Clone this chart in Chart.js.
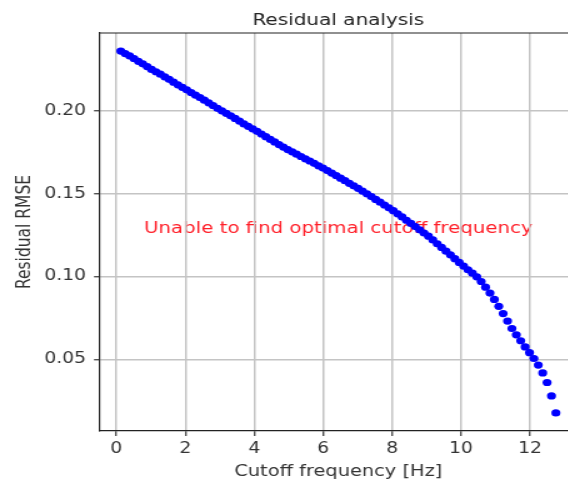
<!DOCTYPE html>
<html>
<head>
<meta charset="utf-8">
<script src="https://cdn.jsdelivr.net/npm/chart.js@4.4.0/dist/chart.umd.min.js"></script>
<style>
  html, body { margin: 0; padding: 0; background: #fff; overflow: hidden; }
  /* the reference figure is stretched sideways, so the chart is too */
  #wrap { width: 480px; height: 483px; transform: scaleX(1.25); transform-origin: 0 0; }
</style>
</head>
<body>
<div id="wrap"><canvas id="residualChart" width="480" height="483"></canvas></div>
<script>
// cutoff frequencies [Hz]
const freqs = [
  0.128, 0.255, 0.383, 0.51, 0.638, 0.765, 0.893, 1.02, 1.148, 1.275,
  1.403, 1.53, 1.658, 1.785, 1.913, 2.04, 2.168, 2.295, 2.423, 2.55,
  2.678, 2.805, 2.933, 3.06, 3.188, 3.315, 3.443, 3.57, 3.698, 3.825,
  3.953, 4.08, 4.208, 4.335, 4.463, 4.59, 4.718, 4.845, 4.973, 5.1,
  5.228, 5.355, 5.483, 5.61, 5.738, 5.865, 5.993, 6.12, 6.248, 6.375,
  6.503, 6.63, 6.758, 6.885, 7.013, 7.14, 7.268, 7.395, 7.523, 7.65,
  7.778, 7.905, 8.033, 8.16, 8.288, 8.415, 8.543, 8.67, 8.798, 8.925,
  9.053, 9.18, 9.308, 9.435, 9.563, 9.69, 9.818, 9.945, 10.073, 10.2,
  10.328, 10.455, 10.583, 10.71, 10.838, 10.965, 11.093, 11.22, 11.348, 11.475,
  11.603, 11.73, 11.858, 11.985, 12.113, 12.24, 12.368, 12.495, 12.623, 12.75
];

// residual RMSE
const rmse = [
  0.2362, 0.2347, 0.2333, 0.2317, 0.2300, 0.2285, 0.2268, 0.2251, 0.2237, 0.2222,
  0.2206, 0.2191, 0.2174, 0.2158, 0.2143, 0.2128, 0.2111, 0.2096, 0.2081, 0.2065,
  0.2049, 0.2033, 0.2016, 0.2001, 0.1986, 0.1971, 0.1955, 0.1939, 0.1922, 0.1907,
  0.1892, 0.1877, 0.1861, 0.1845, 0.1829, 0.1813, 0.1797, 0.1782, 0.1767, 0.1753,
  0.1739, 0.1725, 0.1711, 0.1698, 0.1684, 0.1669, 0.1655, 0.1640, 0.1625, 0.1610,
  0.1594, 0.1579, 0.1563, 0.1548, 0.1533, 0.1516, 0.1500, 0.1483, 0.1466, 0.1449,
  0.1432, 0.1415, 0.1398, 0.1379, 0.1360, 0.1340, 0.1321, 0.1302, 0.1282, 0.1263,
  0.1244, 0.1221, 0.1198, 0.1176, 0.1153, 0.1131, 0.1108, 0.1085, 0.1063, 0.1041,
  0.1020, 0.0998, 0.0970, 0.0936, 0.0900, 0.0862, 0.0820, 0.0776, 0.0731, 0.0686,
  0.0648, 0.0612, 0.0575, 0.0540, 0.0505, 0.0465, 0.0418, 0.0360, 0.0279, 0.0176
];

const xTicks = [0, 2, 4, 6, 8, 10, 12];
const yTicks = [0.05, 0.10, 0.15, 0.20];
const xRange = [-0.504, 13.381];
const yRange = [0.0067, 0.2471];

const chartTitle = 'Residual analysis';
const xLabel = 'Cutoff frequency [Hz]';
const yLabel = 'Residual RMSE';
const warning = 'Unable to find optimal cutoff frequency';

const FONT = "'DejaVu Sans', sans-serif";

// red message under the grid, plus the top/right frame
const residualText = {
  id: 'residualText',
  beforeDraw(chart) {
    const { ctx, chartArea: a } = chart;
    ctx.save();
    ctx.font = '15.8px ' + FONT;
    ctx.fillStyle = 'rgb(255,30,40)';
    ctx.textAlign = 'center';
    ctx.textBaseline = 'alphabetic';
    ctx.fillText(warning, (a.left + a.right) / 2, (a.top + a.bottom) / 2 + 1);
    ctx.restore();
  },
  afterDraw(chart) {
    const { ctx, chartArea: a } = chart;
    ctx.save();
    ctx.strokeStyle = '#222';
    ctx.lineWidth = 1.2;
    ctx.beginPath();
    ctx.moveTo(a.left, a.top);
    ctx.lineTo(a.right, a.top);
    ctx.lineTo(a.right, a.bottom);
    ctx.stroke();
    ctx.restore();
  }
};

const ctx = document.getElementById('residualChart').getContext('2d');
new Chart(ctx, {
  type: 'scatter',
  data: {
    datasets: [{
      data: freqs.map((f, i) => ({ x: f, y: rmse[i] })),
      backgroundColor: '#0000ff',
      borderWidth: 0,
      pointRadius: 3.6,
      pointHoverRadius: 3.6
    }]
  },
  options: {
    responsive: false,
    animation: false,
    devicePixelRatio: 1,
    layout: { padding: { left: 0, right: 17.9, top: 0, bottom: 0 } },
    plugins: {
      legend: { display: false },
      tooltip: { enabled: false },
      title: {
        display: true,
        text: chartTitle,
        fullSize: false,
        color: '#222',
        font: { family: FONT, size: 16, weight: 'normal' },
        padding: { top: 11.4, bottom: 2.4 }
      }
    },
    scales: {
      x: {
        type: 'linear',
        position: 'bottom',
        min: xRange[0],
        max: xRange[1],
        afterBuildTicks: s => { s.ticks = xTicks.map(v => ({ value: v })); },
        afterFit: s => { s.height = 52; },
        grid: { color: '#c4c4c4', lineWidth: 1.5, tickColor: '#333', tickWidth: 1.2, tickLength: 5 },
        border: { color: '#222', width: 1.2 },
        ticks: {
          color: '#333',
          font: { family: FONT, size: 15 },
          padding: 4,
          maxRotation: 0,
          callback: v => String(v)
        },
        title: {
          display: true,
          text: xLabel,
          color: '#333',
          font: { family: FONT, size: 15.5 },
          padding: { top: 0, bottom: 2 }
        }
      },
      y: {
        type: 'linear',
        min: yRange[0],
        max: yRange[1],
        afterBuildTicks: s => { s.ticks = yTicks.map(v => ({ value: v })); },
        afterFit: s => { s.width = 79.2; },
        grid: { color: '#c4c4c4', lineWidth: 1.5, tickColor: '#333', tickWidth: 1.2, tickLength: 4 },
        border: { color: '#222', width: 1.2 },
        ticks: {
          color: '#333',
          font: { family: FONT, size: 15 },
          padding: 6.4,
          callback: v => v.toFixed(2)
        },
        title: {
          display: true,
          text: yLabel,
          color: '#333',
          font: { family: FONT, size: 15.5 },
          padding: { top: 10.5, bottom: 0 }
        }
      }
    }
  },
  plugins: [residualText]
});
</script>
</body>
</html>
